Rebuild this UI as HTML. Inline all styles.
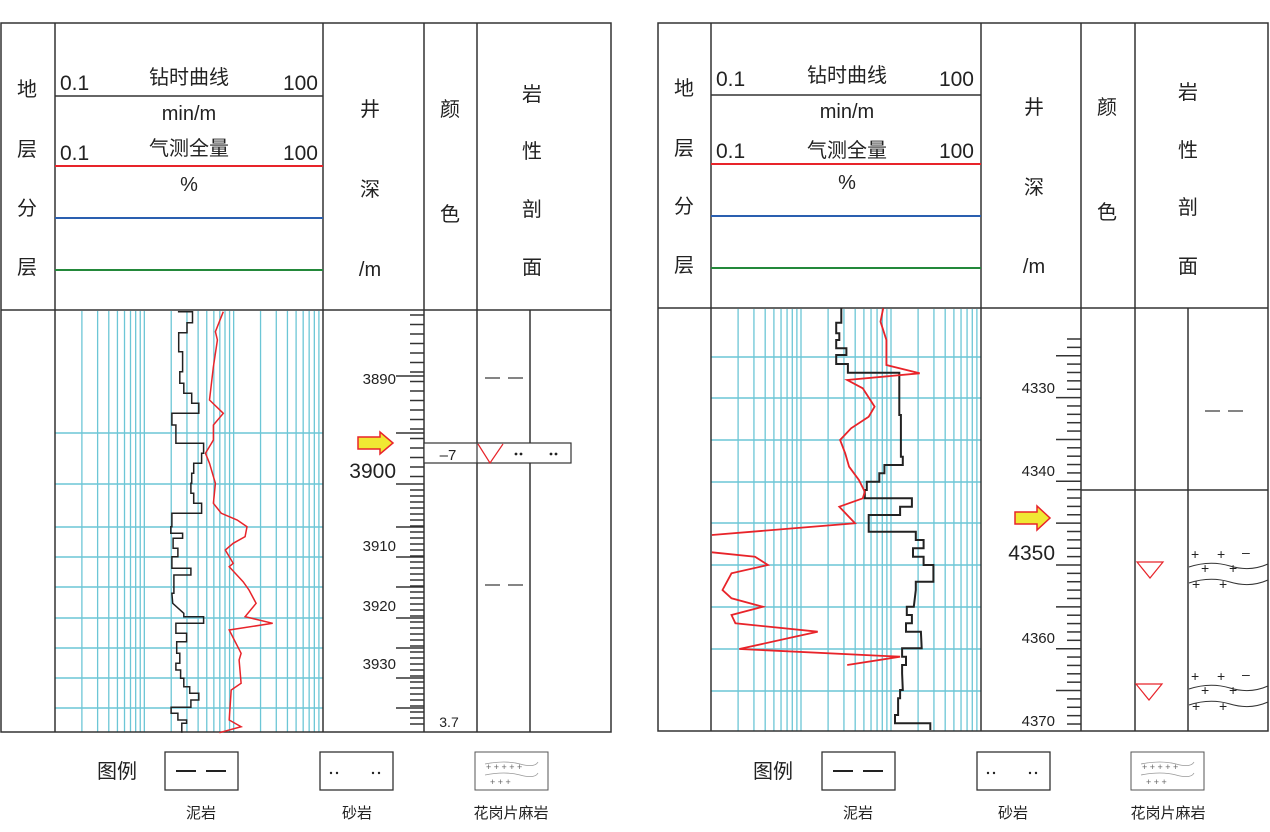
<!DOCTYPE html>
<html><head><meta charset="utf-8"><style>
html,body{margin:0;padding:0;background:#fff;}
svg{display:block;font-family:"Liberation Sans","Noto Sans CJK SC",sans-serif;}
</style></head><body>
<svg id="s" width="1270" height="832" viewBox="0 0 1270 832" xmlns="http://www.w3.org/2000/svg">
<g id="grid"></g>
<g id="ticks" stroke="#333" stroke-width="1.5"></g>
<!-- LEFT PANEL frame -->
<g fill="none" stroke="#333" stroke-width="1.5">
<rect x="1" y="23" width="610" height="709"/>
<line x1="1" y1="310" x2="611" y2="310"/>
<line x1="55" y1="23" x2="55" y2="732"/>
<line x1="323" y1="23" x2="323" y2="732"/>
<line x1="424" y1="23" x2="424" y2="732"/>
<line x1="477" y1="23" x2="477" y2="732"/>
<line x1="530" y1="310" x2="530" y2="732"/>
<line x1="55" y1="96" x2="323" y2="96"/>
</g>
<line x1="55" y1="166" x2="323" y2="166" stroke="#e8242a" stroke-width="2"/>
<line x1="55" y1="218" x2="323" y2="218" stroke="#2a5fb0" stroke-width="2"/>
<line x1="55" y1="270" x2="323" y2="270" stroke="#23883a" stroke-width="2"/>
<!-- RIGHT PANEL frame -->
<g fill="none" stroke="#333" stroke-width="1.5">
<rect x="658" y="23" width="610" height="708"/>
<line x1="658" y1="308" x2="1268" y2="308"/>
<line x1="711" y1="23" x2="711" y2="731"/>
<line x1="981" y1="23" x2="981" y2="731"/>
<line x1="1081" y1="23" x2="1081" y2="731"/>
<line x1="1135" y1="23" x2="1135" y2="731"/>
<line x1="1188" y1="308" x2="1188" y2="731"/>
<line x1="1081" y1="490" x2="1268" y2="490"/>
<line x1="711" y1="95" x2="981" y2="95"/>
</g>
<line x1="711" y1="164" x2="981" y2="164" stroke="#e8242a" stroke-width="2"/>
<line x1="711" y1="216" x2="981" y2="216" stroke="#2a5fb0" stroke-width="2"/>
<line x1="711" y1="268" x2="981" y2="268" stroke="#23883a" stroke-width="2"/>

<!-- header texts left -->
<g fill="#222" font-size="20" text-anchor="middle">
<text x="27" y="96">地</text><text x="27" y="156">层</text><text x="27" y="215">分</text><text x="27" y="274">层</text>
<text x="189" y="84">钻时曲线</text>
<text x="189" y="120">min/m</text>
<text x="189" y="155">气测全量</text>
<text x="189" y="191">%</text>
<text x="370" y="116">井</text><text x="370" y="196">深</text><text x="370" y="276">/m</text>
<text x="450" y="116">颜</text><text x="450" y="221">色</text>
<text x="532" y="101">岩</text><text x="532" y="158">性</text><text x="532" y="216">剖</text><text x="532" y="274">面</text>
</g>
<g fill="#222" font-size="21">
<text x="60" y="90">0.1</text><text x="318" y="90" text-anchor="end">100</text>
<text x="60" y="160">0.1</text><text x="318" y="160" text-anchor="end">100</text>
</g>
<!-- header texts right -->
<g fill="#222" font-size="20" text-anchor="middle">
<text x="684" y="95">地</text><text x="684" y="155">层</text><text x="684" y="213">分</text><text x="684" y="272">层</text>
<text x="847" y="82">钻时曲线</text>
<text x="847" y="118">min/m</text>
<text x="847" y="157">气测全量</text>
<text x="847" y="189">%</text>
<text x="1034" y="114">井</text><text x="1034" y="194">深</text><text x="1034" y="273">/m</text>
<text x="1107" y="114">颜</text><text x="1107" y="219">色</text>
<text x="1188" y="99">岩</text><text x="1188" y="157">性</text><text x="1188" y="214">剖</text><text x="1188" y="273">面</text>
</g>
<g fill="#222" font-size="21">
<text x="716" y="86">0.1</text><text x="974" y="86" text-anchor="end">100</text>
<text x="716" y="158">0.1</text><text x="974" y="158" text-anchor="end">100</text>
</g>

<!-- curves left -->
<polyline id="lb" fill="none" stroke="#222" stroke-width="1.5"/>
<polyline id="lr" fill="none" stroke="#e8242a" stroke-width="1.5"/>
<polyline id="rb" fill="none" stroke="#222" stroke-width="2"/>
<polyline id="rr1" fill="none" stroke="#e8242a" stroke-width="1.8"/>
<polyline id="rr2" fill="none" stroke="#e8242a" stroke-width="1.8"/>

<!-- depth labels left -->
<g fill="#222" font-size="15" text-anchor="end">
<text x="396" y="384">3890</text>
<text x="396" y="551">3910</text>
<text x="396" y="611">3920</text>
<text x="396" y="669">3930</text>
</g>
<text x="396" y="478" font-size="21" fill="#222" text-anchor="end">3900</text>
<text x="449" y="727" font-size="14" fill="#222" text-anchor="middle">3.7</text>
<!-- left lithology -->
<rect x="424" y="443" width="147" height="20" fill="#fff" stroke="#333" stroke-width="1.2"/>
<line x1="477" y1="443" x2="477" y2="463" stroke="#333" stroke-width="1.2"/>
<text x="448" y="460" font-size="15" fill="#222" text-anchor="middle">–7</text>
<polyline points="478,444 490,463 503,444" fill="none" stroke="#e8242a" stroke-width="1.2"/>
<g fill="#222"><circle cx="516" cy="454" r="1.4"/><circle cx="521" cy="454" r="1.4"/><circle cx="551" cy="454" r="1.4"/><circle cx="556" cy="454" r="1.4"/></g>
<g stroke="#333" stroke-width="1.2"><line x1="485" y1="378" x2="500" y2="378"/><line x1="508" y1="378" x2="523" y2="378"/><line x1="485" y1="585" x2="500" y2="585"/><line x1="508" y1="585" x2="523" y2="585"/></g>
<!-- left arrow -->
<polygon points="358,437 380,437 380,432 393,443 380,454 380,449 358,449" fill="#f0e833" stroke="#e8242a" stroke-width="1.5"/>

<!-- depth labels right -->
<g fill="#222" font-size="15" text-anchor="end">
<text x="1055" y="393">4330</text>
<text x="1055" y="476">4340</text>
<text x="1055" y="643">4360</text>
<text x="1055" y="726">4370</text>
</g>
<text x="1055" y="560" font-size="21" fill="#222" text-anchor="end">4350</text>
<polygon points="1015,512 1037,512 1037,506 1050,518 1037,530 1037,524 1015,524" fill="#f0e833" stroke="#e8242a" stroke-width="1.5"/>
<!-- right lithology -->
<g stroke="#333" stroke-width="1.2"><line x1="1205" y1="411" x2="1220" y2="411"/><line x1="1228" y1="411" x2="1243" y2="411"/></g>
<polygon points="1137,562 1163,562 1150,578" fill="none" stroke="#e8242a" stroke-width="1.2"/>
<polygon points="1136,684 1162,684 1149,700" fill="none" stroke="#e8242a" stroke-width="1.2"/>
<g id="gran1" fill="#222" font-size="14">
<text x="1191" y="559">+</text><text x="1217" y="559">+</text><text x="1242" y="557">–</text>
<path d="M1189,567 Q1210,560 1230,566 T1268,564" fill="none" stroke="#333"/>
<text x="1201" y="573">+</text><text x="1229" y="573">+</text>
<path d="M1189,583 Q1210,576 1230,582 T1268,580" fill="none" stroke="#333"/>
<text x="1192" y="589">+</text><text x="1219" y="589">+</text>
</g>
<g fill="#222" font-size="14" transform="translate(0,122)">
<text x="1191" y="559">+</text><text x="1217" y="559">+</text><text x="1242" y="557">–</text>
<path d="M1189,567 Q1210,560 1230,566 T1268,564" fill="none" stroke="#333"/>
<text x="1201" y="573">+</text><text x="1229" y="573">+</text>
<path d="M1189,583 Q1210,576 1230,582 T1268,580" fill="none" stroke="#333"/>
<text x="1192" y="589">+</text><text x="1219" y="589">+</text>
</g>

<!-- legend -->
<g id="leg" fill="#222">
<text x="117" y="778" font-size="20" text-anchor="middle">图例</text>
<rect x="165" y="752" width="73" height="38" fill="none" stroke="#333" stroke-width="1.3"/>
<line x1="176" y1="771" x2="196" y2="771" stroke="#222" stroke-width="2"/><line x1="206" y1="771" x2="226" y2="771" stroke="#222" stroke-width="2"/>
<rect x="320" y="752" width="73" height="38" fill="none" stroke="#333" stroke-width="1.3"/>
<circle cx="331" cy="773" r="1.2"/><circle cx="337" cy="773" r="1.2"/><circle cx="373" cy="773" r="1.2"/><circle cx="379" cy="773" r="1.2"/>
<rect x="475" y="752" width="73" height="38" fill="none" stroke="#555" stroke-width="1"/>
<path d="M485,764 Q505,760 520,764 T538,762 M485,775 Q505,771 520,775 T538,773" fill="none" stroke="#999" stroke-width="0.8"/>
<text x="486" y="770" font-size="9" fill="#666">+ + + + +</text>
<text x="490" y="785" font-size="9" fill="#666">+   +   +</text>
<text x="201" y="818" font-size="15" text-anchor="middle">泥岩</text>
<text x="357" y="818" font-size="15" text-anchor="middle">砂岩</text>
<text x="511" y="818" font-size="15" text-anchor="middle">花岗片麻岩</text>
</g>
<g fill="#222" transform="translate(656,0)">
<text x="117" y="778" font-size="20" text-anchor="middle">图例</text>
<rect x="166" y="752" width="73" height="38" fill="none" stroke="#333" stroke-width="1.3"/>
<line x1="177" y1="771" x2="197" y2="771" stroke="#222" stroke-width="2"/><line x1="207" y1="771" x2="227" y2="771" stroke="#222" stroke-width="2"/>
<rect x="321" y="752" width="73" height="38" fill="none" stroke="#333" stroke-width="1.3"/>
<circle cx="332" cy="773" r="1.2"/><circle cx="338" cy="773" r="1.2"/><circle cx="374" cy="773" r="1.2"/><circle cx="380" cy="773" r="1.2"/>
<rect x="475" y="752" width="73" height="38" fill="none" stroke="#555" stroke-width="1"/>
<path d="M485,764 Q505,760 520,764 T538,762 M485,775 Q505,771 520,775 T538,773" fill="none" stroke="#999" stroke-width="0.8"/>
<text x="486" y="770" font-size="9" fill="#666">+ + + + +</text>
<text x="490" y="785" font-size="9" fill="#666">+   +   +</text>
<text x="202" y="818" font-size="15" text-anchor="middle">泥岩</text>
<text x="357" y="818" font-size="15" text-anchor="middle">砂岩</text>
<text x="512" y="818" font-size="15" text-anchor="middle">花岗片麻岩</text>
</g>
</svg>
<script>
var NS="http://www.w3.org/2000/svg";
function L(g,x1,y1,x2,y2,c,w){var e=document.createElementNS(NS,"line");e.setAttribute("x1",x1);e.setAttribute("y1",y1);e.setAttribute("x2",x2);e.setAttribute("y2",y2);if(c)e.setAttribute("stroke",c);if(w)e.setAttribute("stroke-width",w);g.appendChild(e);}
var grid=document.getElementById("grid"),ticks=document.getElementById("ticks");
var C="#6cc6d6";
function vgrid(x0,dw,y1,y2){for(var d=0;d<3;d++)for(var k=2;k<=10;k++){var x=x0+dw*(d+Math.log10(k));if(x<x0+3*dw-2)L(grid,x,y1,x,y2,C,1.3);}}
vgrid(55,89.33,311,732);vgrid(711,90,309,731);
[433,484,527,557,587,618,648,678,708].forEach(function(y){L(grid,55,y,323,y,C,1.6);});
[357,398,440,482,523,565,607,649,691].forEach(function(y){L(grid,711,y,981,y,C,1.6);});
// left ticks
var maj=[376,433,484,527,557,587,618,648,678,708];
maj.forEach(function(y){L(ticks,396,y,424,y);});
for(var y=315;y<484;y+=9.5){L(ticks,410,y,424,y);}
for(var y=490;y<730;y+=6){L(ticks,410,y,424,y);}
// right ticks
for(var i=0;i<=46;i++){var y=339+i*8.37;if(y>730)break;var dm=(4323+i);L(ticks,(dm%5==0)?1056:1067,y,1081,y);}
function pts(id,arr,sx,ox,oy){var s=[];for(var i=0;i<arr.length;i+=2)s.push((arr[i]/sx+ox).toFixed(1)+","+(arr[i+1]/3+oy).toFixed(1));document.getElementById(id).setAttribute("points",s.join(" "));}
pts("lb",[450,35,487,35,487,68,473,68,473,98,452,98,452,155,462,155,462,215,455,215,455,250,465,250,465,280,485,280,485,310,503,310,503,340,435,340,435,375,445,375,445,430,515,430,515,460,510,460,510,490,490,490,490,520,485,520,485,550,483,550,483,580,490,580,490,610,510,610,510,640,435,640,435,680,432,680,432,700,462,700,462,715,438,715,438,745,450,745,450,770,435,770,435,805,483,805,483,825,440,825,440,880,435,880,437,910,465,940,465,950,515,950,515,970,445,970,445,1000,472,1000,472,1025,447,1025,447,1060,455,1060,455,1090,445,1090,445,1110,457,1110,457,1135,465,1135,465,1160,480,1160,480,1180,503,1180,503,1200,483,1200,483,1222,433,1222,433,1240,450,1240,450,1260,472,1260,472,1270,460,1270,460,1298],2.53,0,300);
pts("lr",[565,35,545,95,550,120,540,200,530,300,565,340,540,375,540,420,520,460,530,490,545,550,540,610,560,640,600,660,625,680,620,710,590,730,570,750,590,790,580,800,615,845,630,870,648,910,620,950,690,970,580,990,610,1060,605,1080,610,1150,585,1170,580,1260,610,1280,555,1298],2.53,0,300);
pts("rb",[475,25,475,68,462,68,462,100,470,100,470,120,462,120,462,145,488,145,488,165,462,165,462,192,492,192,492,218,623,218,623,345,627,345,627,470,632,470,632,495,585,495,585,520,572,520,572,545,540,545,540,570,535,570,535,595,655,595,655,620,625,620,625,645,545,645,545,695,665,695,665,720,685,720,685,745,658,745,658,770,685,770,685,795,710,795,710,845,665,845,665,870,660,920,642,920,642,945,655,945,655,970,640,970,640,995,678,995,680,1045,630,1045,630,1070,640,1070,640,1095,630,1095,630,1120,632,1170,625,1170,625,1195,620,1195,620,1245,612,1245,612,1270,702,1270,702,1290],2.55,655,300);
pts("rr1",[582,25,575,65,590,120,590,195,675,220,490,240,530,265,560,320,545,350,500,385,472,420,485,460,495,500,520,540,535,575,530,595,470,620,510,670,145,705],2.55,655,300);
pts("rr2",[145,757,255,770,288,795,195,820,172,870,195,895,275,920,195,945,205,970,415,995,215,1047,625,1070,490,1095],2.55,655,300);
</script>
</body></html>
